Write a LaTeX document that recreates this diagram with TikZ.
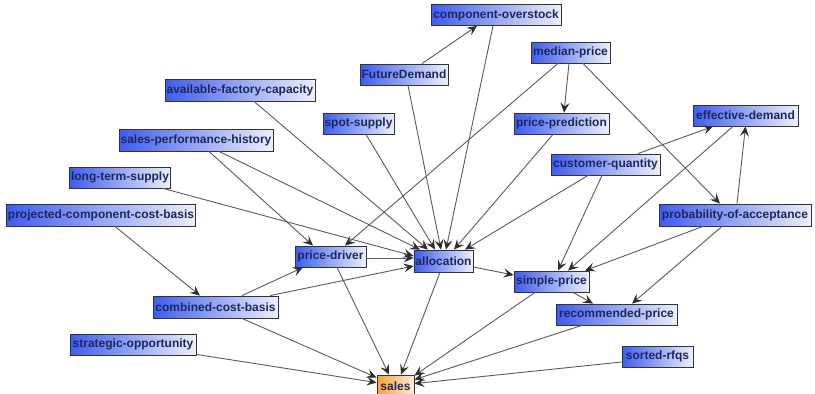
\documentclass[tikz,border=0pt]{standalone}
\usepackage{fontspec}
\setmainfont{Liberation Sans}
\usetikzlibrary{arrows.meta}

\definecolor{nodeL}{RGB}{62,92,242}
\definecolor{nodeR}{RGB}{236,239,252}
\definecolor{goalL}{RGB}{244,164,52}
\definecolor{goalR}{RGB}{253,236,212}
\definecolor{labeltxt}{RGB}{30,40,88}
\definecolor{edgegray}{RGB}{90,90,90}
\definecolor{headgray}{RGB}{45,45,45}

\tikzset{
  vbox/.style={draw=black!80, line width=0.8pt, left color=nodeL, right color=nodeR,
    font=\fontsize{12}{13}\selectfont\bfseries, text=labeltxt,
    inner xsep=1.5pt, inner ysep=0pt, minimum height=21pt, anchor=center},
  goalbox/.style={vbox, left color=goalL, right color=goalR},
  link/.style={draw=edgegray, line width=0.9pt,
    -{Stealth[length=10pt, width=9pt, inset=4pt, color=headgray]}},
}

\begin{document}
\begin{tikzpicture}[x=1pt, y=-1pt]
\useasboundingbox (0,0) rectangle (815,394);

% variables
\node[vbox, minimum width=130] (co)   at (496,15)     {component-overstock};
\node[vbox, minimum width=79]  (md)   at (570.5,52.5) {median-price};
\node[vbox, minimum width=88]  (fd)   at (404,74.5)   {FutureDemand};
\node[vbox, minimum width=150, minimum height=22] (afc) at (240,90) {available-factory-capacity};
\node[vbox, minimum width=71]  (ss)   at (358.5,123.5) {spot-supply};
\node[vbox, minimum width=95]  (pp)   at (561.5,123.5) {price-prediction};
\node[vbox, minimum width=105] (ed)   at (745.5,115.5) {effective-demand};
\node[vbox, minimum width=154, minimum height=22] (sph) at (196,140) {sales-performance-history};
\node[vbox, minimum width=109] (cq)   at (605.5,164.5) {customer-quantity};
\node[vbox, minimum width=100] (lts)  at (120,177.5)  {long-term-supply};
\node[vbox, minimum width=188, minimum height=22] (pccb) at (101,215) {projected-component-cost-basis};
\node[vbox, minimum width=152, minimum height=22] (poa)  at (735,215) {probability-of-acceptance};
\node[vbox, minimum width=71]  (pd)   at (330.5,256.5) {price-driver};
\node[vbox, minimum width=59, minimum height=22] (al)   at (443.5,261) {allocation};
\node[vbox, minimum width=75]  (sp)   at (551.5,281.5) {simple-price};
\node[vbox, minimum width=125, minimum height=22] (ccb)  at (215.5,307) {combined-cost-basis};
\node[vbox, minimum width=121] (rp)   at (616.5,314.5) {recommended-price};
\node[vbox, minimum width=126] (so)   at (133,344.5)  {strategic-opportunity};
\node[vbox, minimum width=71]  (sr)   at (657.5,356.5) {sorted-rfqs};
\node[goalbox, minimum width=37, minimum height=22] (sales) at (395.5,386) {sales};

% influences
\draw[link] ([xshift=18pt]fd.north) -- ([xshift=-19pt]co.south);
\draw[link] ([xshift=-1.5pt]md.south) -- ([xshift=2.5pt]pp.north);
\draw[link] ([xshift=-12.5pt]md.south) -- ([xshift=14.5pt]pd.north);
\draw[link] ([xshift=12.5pt]md.south) -- ([xshift=-15pt]poa.north);
\draw[link] ([xshift=32.5pt]cq.north) -- ([xshift=-32.5pt]ed.south);
\draw[link] ([xshift=2pt]poa.north) -- (ed.south);
\draw[link] ([xshift=-12.5pt]ed.south) -- ([xshift=16.5pt]sp.north);
\draw[link] ([xshift=-3.5pt]cq.south) -- ([xshift=6.5pt]sp.north);
\draw[link] ([xshift=-32pt]poa.south) -- ([xshift=33.5pt]sp.north);
\draw[link] ([xshift=-13pt]poa.south) -- ([xshift=15.5pt]rp.north);
\draw[link] ([xshift=21.5pt]sp.south) -- ([xshift=-23.5pt]rp.north);
\draw[link] ([yshift=-6pt]al.east) -- ([yshift=6.5pt]sp.west);

% into allocation
\draw[link] ([xshift=23pt]sph.south) -- ([xshift=-23.5pt]al.north);
\draw[link] ([xshift=14pt]afc.south) -- ([xshift=-15.5pt]al.north);
\draw[link] ([xshift=7.5pt]ss.south) -- ([xshift=-8.5pt]al.north);
\draw[link] ([xshift=4pt]fd.south) -- ([xshift=-2.5pt]al.north);
\draw[link] ([xshift=-3pt]co.south) -- ([xshift=2.5pt]al.north);
\draw[link] ([xshift=-8.5pt]pp.south) -- ([xshift=10.5pt]al.north);
\draw[link] ([xshift=-17.5pt]cq.south) -- ([xshift=21.5pt]al.north);
\draw[link] ([xshift=43pt]lts.south) -- ([yshift=5pt]al.west);
\draw[link] ([yshift=-1.5pt]pd.east) -- ([yshift=3pt]al.west);
\draw[link] ([xshift=54.5pt]ccb.north) -- ([yshift=-5pt]al.west);

% cost side
\draw[link] ([xshift=14pt]pccb.south) -- ([xshift=-15.5pt]ccb.north);
\draw[link] ([xshift=26.5pt]ccb.north) -- ([xshift=-27.5pt]pd.south);
\draw[link] ([xshift=13pt]sph.south) -- ([xshift=-17.5pt]pd.north);

% into sales
\draw[link] ([xshift=26.5pt]ccb.south) -- ([yshift=-3pt]sales.north west);
\draw[link] ([yshift=1pt]so.south east) -- ([yshift=-8pt]sales.north west);
\draw[link] ([xshift=6.5pt]pd.south) -- ([xshift=-6.5pt]sales.north);
\draw[link] ([xshift=-3.5pt]al.south) -- ([xshift=5.5pt]sales.north);
\draw[link] ([xshift=-16.5pt]sp.south) -- ([yshift=-1pt]sales.north east);
\draw[link] ([xshift=-34.5pt]rp.south) -- ([yshift=-5pt]sales.north east);
\draw[link] ([yshift=-5.5pt]sr.west) -- ([yshift=-9pt]sales.north east);
\end{tikzpicture}
\end{document}
